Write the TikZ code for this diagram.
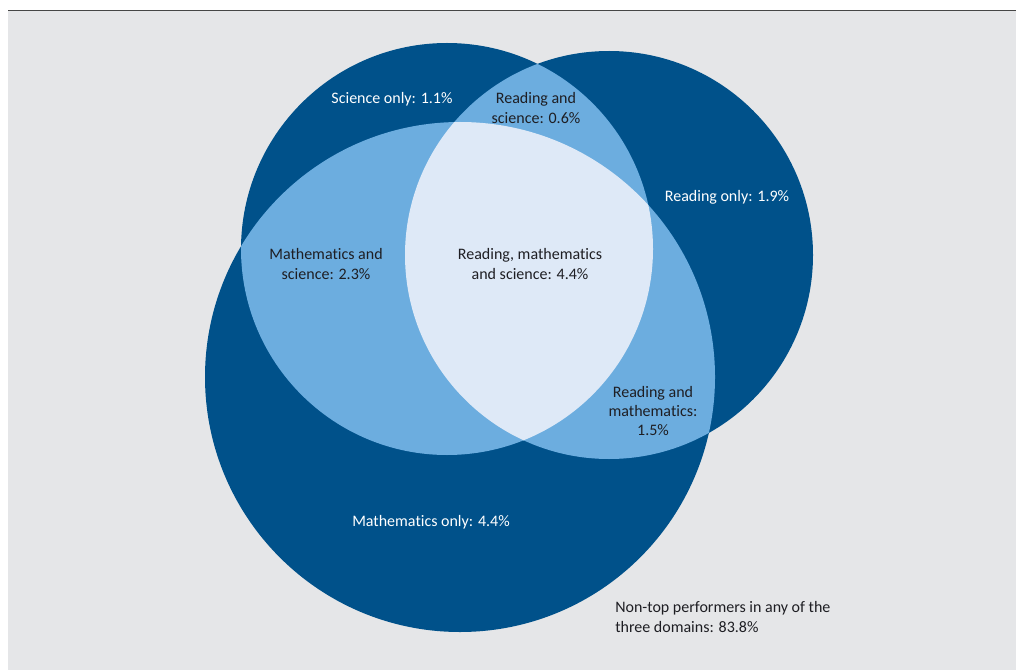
\documentclass[tikz,border=0pt]{standalone}
\usepackage{fontspec}
\setmainfont{Carlito}[Ligatures={NoCommon,NoRequired}]
\usepackage{xcolor}

\definecolor{darkblue}{RGB}{0,81,138}
\definecolor{midblue}{RGB}{108,173,223}
\definecolor{paleblue}{RGB}{222,233,247}
\definecolor{panelgray}{RGB}{229,230,232}
\definecolor{rulegray}{RGB}{70,70,70}
\definecolor{inktext}{RGB}{30,30,35}

\begin{document}
\begin{tikzpicture}[x=0.75pt,y=-0.75pt,
    region label/.style={align=center,inner sep=0pt,font=\fontsize{12}{14.6}\selectfont},
    light label/.style={region label,text=white},
    dark label/.style={region label,text=inktext}]
    \useasboundingbox (0,0) rectangle (1016,670);
    \fill[panelgray] (8,11) rectangle (1016,670);
    \draw[rulegray,line width=1.1pt] (8,10.5) -- (1016,10.5);

    % circle centres
    \coordinate (science) at (447,249);
    \coordinate (reading) at (609,255);
    \coordinate (maths) at (460,377);

    % each domain
    \fill[darkblue] (science) circle[radius=206];
    \fill[darkblue] (reading) circle[radius=204];
    \fill[darkblue] (maths) circle[radius=255];

    % two domains
    \begin{scope}
        \clip (science) circle[radius=206];
        \fill[midblue] (reading) circle[radius=204];
        \fill[midblue] (maths) circle[radius=255];
    \end{scope}
    \begin{scope}
        \clip (reading) circle[radius=204];
        \fill[midblue] (maths) circle[radius=255];
    \end{scope}

    % all three
    \begin{scope}
        \clip (science) circle[radius=206];
        \clip (reading) circle[radius=204];
        \fill[paleblue] (maths) circle[radius=255];
    \end{scope}

    \node[light label] (sonly) at (392,99) {Science only: 1.1\%};
    \node[dark label] (rs) at (536,108) {Reading and\\science: 0.6\%};
    \node[light label] (ronly) at (727,197) {Reading only: 1.9\%};
    \node[dark label] (ms) at (326,264) {Mathematics and\\science: 2.3\%};
    \node[dark label] (rms) at (530,264) {Reading, mathematics\\and science: 4.4\%};
    \node[dark label] (rm) at (653,411) {Reading and\\mathematics:\\1.5\%};
    \node[light label] (monly) at (431,522) {Mathematics only: 4.4\%};
    \node[dark label,align=left,anchor=west] (none) at (615,617)
        {Non-top performers in any of the\\three domains: 83.8\%};
\end{tikzpicture}
\end{document}
